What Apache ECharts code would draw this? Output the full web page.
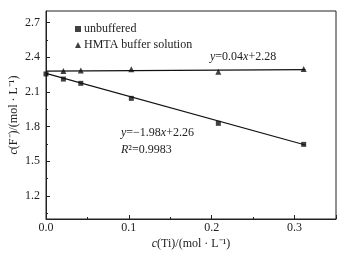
<!DOCTYPE html>
<html>
<head>
<meta charset="utf-8">
<script src="https://cdn.jsdelivr.net/npm/echarts@6/dist/echarts.min.js"></script>
<style>
  html, body { margin: 0; padding: 0; background: #fff; }
  #main { width: 352px; height: 253px; }
</style>
</head>
<body>
<div id="main"></div>
<script>
// 讀自圖片的數據
const unbufferedX = [0, 0.021, 0.042, 0.103, 0.208, 0.311];
const unbufferedY = [2.255, 2.211, 2.174, 2.044, 1.828, 1.646];
const hmtaX = [0.021, 0.042, 0.103, 0.208, 0.311];
const hmtaY = [2.28, 2.286, 2.295, 2.274, 2.298];
// 擬合直線端點
const fitUnbuffered = [[0, 2.26], [0.313, 1.64]];
const fitHmta = [[0, 2.28], [0.313, 2.293]];
const yMajorTicks = [1.2, 1.5, 1.8, 2.1, 2.4, 2.7];
const yMinorTicks = [1.05, 1.35, 1.65, 1.95, 2.25, 2.55];

const font = 'Liberation Serif';
const txt = '#222';
const fs = 12;

const chart = echarts.init(document.getElementById('main'));

const pairs = (xs, ys) => xs.map((x, i) => [x, ys[i]]);
const italic = { i: { fontStyle: 'italic', fontFamily: font, fontSize: fs, color: txt } };

const option = {
  animation: false,
  grid: {
    left: 46, right: 16, top: 11, bottom: 34,
    outerBoundsMode: 'none',
    show: true, borderColor: '#222', borderWidth: 1
  },
  legend: {
    orient: 'vertical',
    left: 70, top: 18,
    itemWidth: 6, itemHeight: 6, itemGap: 4,
    textStyle: { fontFamily: font, fontSize: fs, color: txt, padding: [0, 0, 0, -2] },
    data: [
      { name: 'unbuffered', icon: 'rect' },
      { name: 'HMTA buffer solution', icon: 'triangle' }
    ]
  },
  xAxis: {
    type: 'value', min: 0, max: 0.35, interval: 0.1,
    name: '{i|c}(Ti)/(mol · L⁻¹)',
    nameLocation: 'middle', nameGap: 19, nameMoveOverlap: false,
    nameTextStyle: { fontFamily: font, fontSize: fs, color: txt, rich: italic },
    axisLine: { lineStyle: { color: '#222' } },
    axisTick: { inside: true, length: 4, lineStyle: { color: '#222' } },
    minorTick: { show: true, splitNumber: 2, length: 2, lineStyle: { color: '#222' } },
    splitLine: { show: false },
    axisLabel: { fontFamily: font, fontSize: fs, color: txt, margin: 3,
      showMaxLabel: false, formatter: v => v.toFixed(1) }
  },
  yAxis: [
    {
      type: 'value', min: 1.0, max: 2.8,
      name: '{i|c}(F⁻)/(mol · L⁻¹)',
      nameLocation: 'middle', nameGap: 26, nameRotate: 90, nameMoveOverlap: false,
      nameTextStyle: { fontFamily: font, fontSize: fs, color: txt, rich: italic },
      axisLine: { show: true, lineStyle: { color: '#222' } },
      axisTick: { inside: true, length: 4, customValues: yMajorTicks, lineStyle: { color: '#222' } },
      splitLine: { show: false },
      axisLabel: { fontFamily: font, fontSize: fs, color: txt, margin: 6,
        customValues: yMajorTicks, formatter: v => v.toFixed(1) }
    },
    {
      type: 'value', min: 1.0, max: 2.8, position: 'left',
      axisLine: { show: false },
      axisTick: { inside: true, length: 2, customValues: yMinorTicks, lineStyle: { color: '#222' } },
      axisLabel: { show: false },
      splitLine: { show: false }
    }
  ],
  series: [
    {
      name: 'fit-unbuffered', type: 'line', data: fitUnbuffered,
      showSymbol: false, lineStyle: { color: '#111', width: 1.2 }, silent: true
    },
    {
      name: 'fit-hmta', type: 'line', data: fitHmta,
      showSymbol: false, lineStyle: { color: '#111', width: 1.2 }, silent: true
    },
    {
      name: 'unbuffered', type: 'scatter', symbol: 'rect', symbolSize: 5,
      itemStyle: { color: '#111' }, data: pairs(unbufferedX, unbufferedY)
    },
    {
      name: 'HMTA buffer solution', type: 'scatter', symbol: 'triangle', symbolSize: 6,
      itemStyle: { color: '#111' }, data: pairs(hmtaX, hmtaY)
    }
  ],
  graphic: [
    {
      type: 'text', left: 210, top: 51,
      style: {
        text: '{i|y}=0.04{i|x}+2.28',
        font: fs + 'px ' + font, fill: txt,
        rich: { i: { fontStyle: 'italic', fontFamily: font, fontSize: fs, fill: txt } }
      }
    },
    {
      type: 'text', left: 121, top: 127,
      style: {
        text: '{i|y}=−1.98{i|x}+2.26',
        font: fs + 'px ' + font, fill: txt,
        rich: { i: { fontStyle: 'italic', fontFamily: font, fontSize: fs, fill: txt } }
      }
    },
    {
      type: 'text', left: 121, top: 144,
      style: {
        text: '{i|R}²=0.9983',
        font: fs + 'px ' + font, fill: txt,
        rich: { i: { fontStyle: 'italic', fontFamily: font, fontSize: fs, fill: txt } }
      }
    }
  ]
};

chart.setOption(option);
</script>
</body>
</html>
